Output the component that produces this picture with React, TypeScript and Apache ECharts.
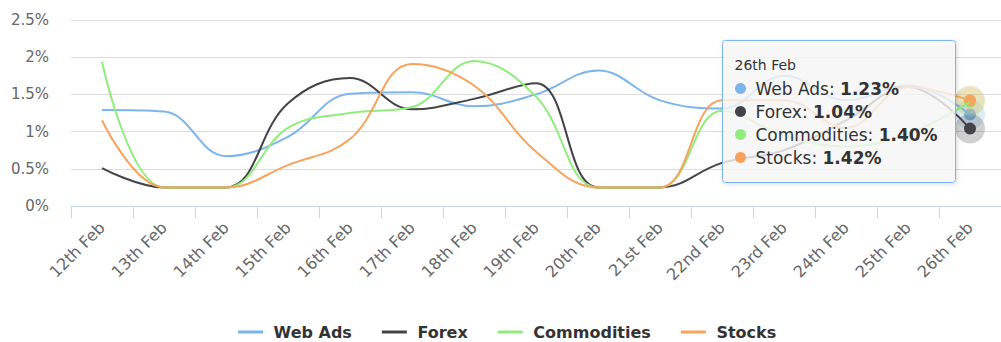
import React, { useEffect, useRef } from "react";
import * as echarts from "echarts";

const categories = [
  "12th Feb", "13th Feb", "14th Feb", "15th Feb", "16th Feb", "17th Feb", "18th Feb",
  "19th Feb", "20th Feb", "21st Feb", "22nd Feb", "23rd Feb", "24th Feb", "25th Feb", "26th Feb",
];
const webAds = [1.29, 1.27, 0.67, 0.93, 1.51, 1.53, 1.34, 1.5, 1.82, 1.42, 1.31, 1.75, 1.42, 1.62, 1.23];
const forex = [0.51, 0.25, 0.25, 1.38, 1.72, 1.3, 1.44, 1.65, 0.25, 0.25, 0.58, 0.75, 1.15, 1.6, 1.04];
const commodities = [1.94, 0.25, 0.25, 1.05, 1.25, 1.33, 1.95, 1.47, 0.25, 0.25, 1.28, 0.95, 0.8, 0.97, 1.4];
const stocks = [1.15, 0.25, 0.25, 0.55, 0.9, 1.91, 1.62, 0.73, 0.25, 0.25, 1.42, 1.42, 1.05, 1.6, 1.42];

const seriesNames = ["Web Ads", "Forex", "Commodities", "Stocks"];
const seriesValues = [webAds, forex, commodities, stocks];
const seriesColors = ["#7cb5ec", "#434348", "#90ed7d", "#f7a35c"];

const yMin = 0;
const yMax = 2.5;
const yInterval = 0.5;

const FONT = "DejaVu Sans";

export default function App() {
  const ref = useRef<HTMLDivElement>(null);

  useEffect(() => {
    if (!ref.current) return;
    const chart = echarts.init(ref.current, undefined, { renderer: "svg" });
    const last = categories.length - 1;

    const series: any[] = [];
    seriesNames.forEach((name, i) => {
      series.push({
        type: "line",
        name,
        data: seriesValues[i],
        smooth: 0.4,
        symbol: "none",
        showSymbol: false,
        lineStyle: { width: 2, color: seriesColors[i] },
        itemStyle: { color: seriesColors[i] },
      });
    });
    seriesNames.forEach((name, i) => {
      const v = seriesValues[i][last];
      series.push({
        type: "scatter",
        name: name + " marker",
        silent: true,
        data: [
          { value: [categories[last], v], symbolSize: 30, itemStyle: { color: seriesColors[i], opacity: 0.25 } },
          { value: [categories[last], v], symbolSize: 12, itemStyle: { color: seriesColors[i], opacity: 1 } },
        ],
      });
    });

    const Z = 100;
    const rowChildren: any[] = [];
    seriesNames.forEach((name, i) => {
      const cy = 48 + 23 * i;
      rowChildren.push({
        type: "circle",
        z: Z + 1,
        shape: { cx: 18, cy, r: 5.5 },
        style: { fill: seriesColors[i] },
      });
      rowChildren.push({
        type: "text",
        z: Z + 1,
        x: 33,
        y: cy,
        style: {
          text: `{n|${name}: }{v|${seriesValues[i][last].toFixed(2)}%}`,
          align: "left",
          verticalAlign: "middle",
          textAlign: "left",
          textVerticalAlign: "middle",
          rich: {
            n: { fontSize: 17, fontFamily: FONT, fill: "#333333", fontWeight: "normal" },
            v: { fontSize: 17, fontFamily: FONT, fill: "#333333", fontWeight: "bold" },
          },
        },
      });
    });

    chart.setOption({
      animation: false,
      grid: { left: 71, right: -7, top: 20, bottom: 136 },
      legend: {
        data: seriesNames.map((n) => ({ name: n, icon: "rect" })),
        formatter: (n: string) => " " + n,
        left: 233,
        top: 319,
        itemWidth: 25,
        itemHeight: 3,
        itemGap: 30,
        textStyle: { fontFamily: FONT, fontSize: 16, fontWeight: "bold", color: "#333333" },
      },
      xAxis: {
        type: "category",
        data: categories,
        boundaryGap: true,
        axisLine: { lineStyle: { color: "#ccd6eb", width: 1 } },
        axisTick: { show: true, length: 12, interval: 0, lineStyle: { color: "#ccd6eb" } },
        axisLabel: { rotate: 45, interval: 0, margin: 19, color: "#666666", fontSize: 16, fontFamily: FONT },
        splitLine: { show: false },
      },
      yAxis: {
        type: "value",
        min: yMin,
        max: yMax,
        interval: yInterval,
        axisLine: { show: false },
        axisTick: { show: false },
        axisLabel: { formatter: (v: number) => `${v}%`, color: "#666666", fontSize: 15, fontFamily: FONT, margin: 22 },
        splitLine: { lineStyle: { color: "#dddddd", width: 1 } },
      },
      series,
      graphic: [
        {
          type: "group",
          left: 722,
          top: 40,
          z: Z,
          children: [
            {
              type: "rect",
              z: Z,
              shape: { x: 0, y: 0, width: 233, height: 142, r: 3 },
              style: {
                fill: "rgba(249,249,249,0.8)",
                stroke: "#7cb5ec",
                lineWidth: 1,
                shadowBlur: 4,
                shadowOffsetX: 1,
                shadowOffsetY: 1,
                shadowColor: "rgba(0,0,0,0.18)",
              },
            },
            {
              type: "text",
              z: Z + 1,
              x: 12,
              y: 24.5,
              style: {
                text: categories[last],
                fontSize: 14,
                fontFamily: FONT,
                fill: "#333333",
                align: "left",
                verticalAlign: "middle",
                textAlign: "left",
                textVerticalAlign: "middle",
              },
            },
            ...rowChildren,
          ],
        },
      ],
    });
    return () => chart.dispose();
  }, []);

  return (
    <div
      ref={ref}
      style={{ position: "fixed", left: 0, top: 0, width: 1001, height: 342, background: "#ffffff" }}
    />
  );
}
